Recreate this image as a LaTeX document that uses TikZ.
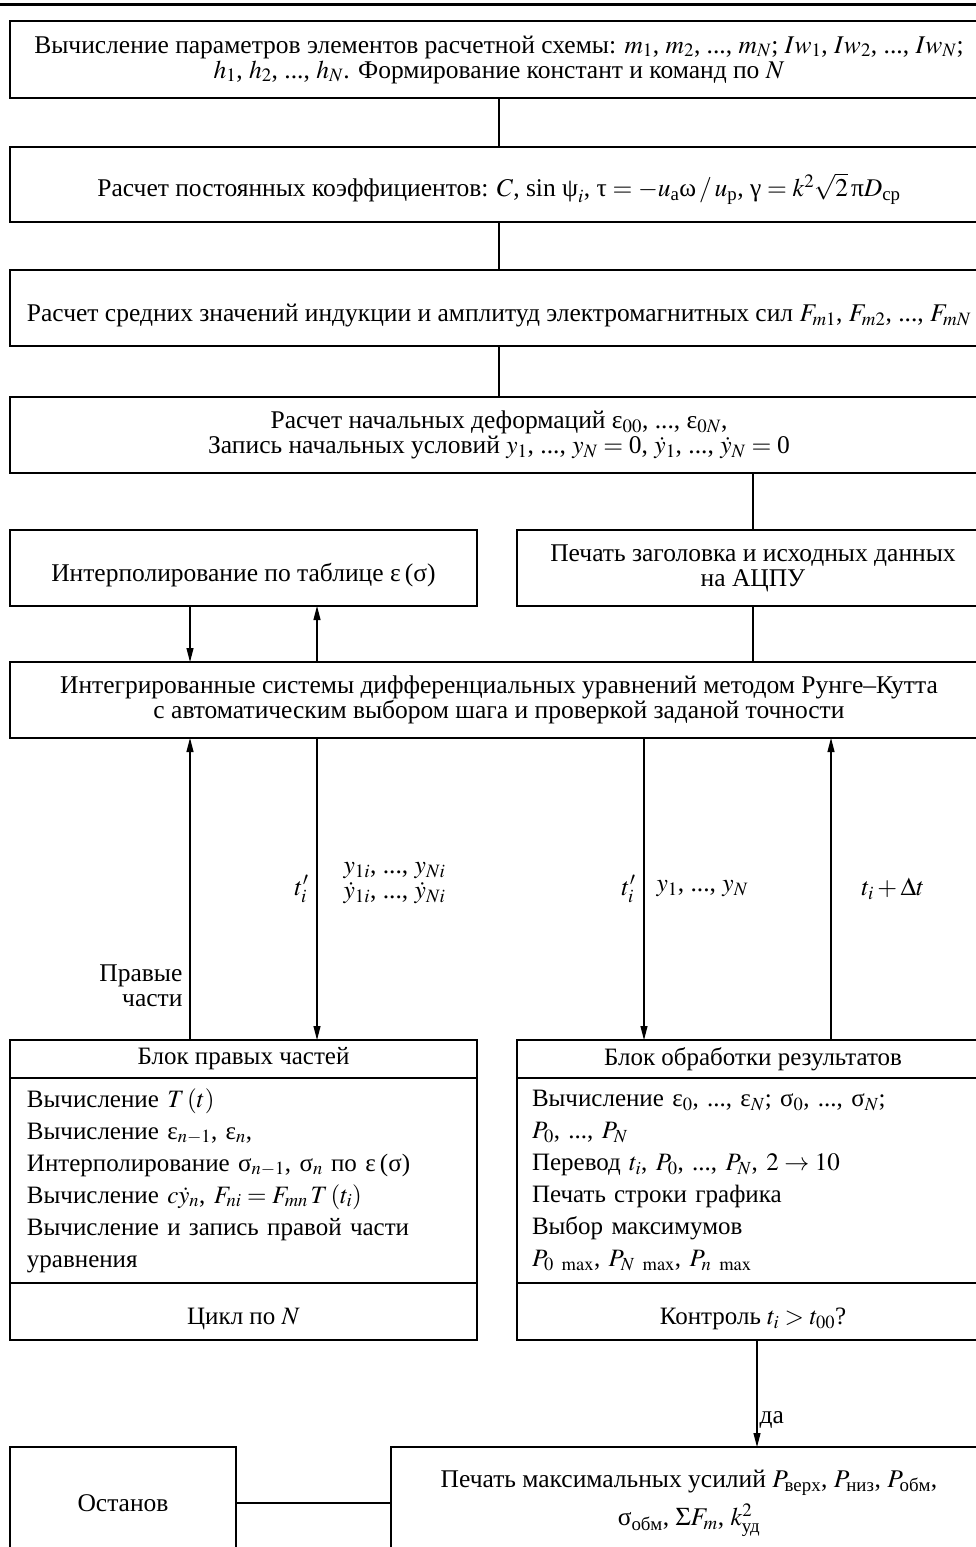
\documentclass[tikz,border=0pt]{standalone}
\usepackage{amsmath}
\usepackage{mathptmx}
\usepackage{fontspec}
\setmainfont{Liberation Serif}
\usetikzlibrary{arrows.meta,positioning}
\newcommand{\blkfont}{\fontsize{25.5}{25}\selectfont}
\newcommand{\lstfont}{\fontsize{25}{32}\selectfont}
\newcommand{\gk}[1]{\text{#1}}
\tikzset{
  block/.style={draw,rectangle,line width=1.4pt,inner sep=0pt,outer sep=0pt,align=center,font=\blkfont},
  low/.style={execute at begin node={\rule{0pt}{32pt}}},
  wide/.style={block,low,minimum width=978pt,minimum height=76pt},
  half/.style={block,low,minimum width=470pt,minimum height=76pt},
  head/.style={block,minimum height=38pt,font=\lstfont},
  body/.style={block,minimum height=205pt,align=left,font=\lstfont},
  foot/.style={block,low,minimum height=57pt,font=\lstfont},
  link/.style={line width=1.1pt},
  lbl/.style={font=\blkfont,inner sep=2pt}
}

\begin{document}
\begin{tikzpicture}[x=1pt,y=-1pt,>={Triangle[length=14pt,width=7pt]}]
  \useasboundingbox (0,0) rectangle (976,1547);
  \clip (0,0) rectangle (976,1547);
  \draw[line width=3pt] (0,4.5) -- (976,4.5);
  % main chain
  \node[wide,minimum height=77pt] (params) at (499,59.5)
    {Вычисление параметров элементов расчетной схемы: $m_1$, $m_2$, ..., $m_N$; $Iw_1$, $Iw_2$, ..., $Iw_N$;\\
     $h_1$, $h_2$, ..., $h_N$. Формирование констант и команд по $N$};
  \node[wide,minimum height=75pt] (coefs) at (499,184.5)
    {Расчет постоянных коэффициентов: $C$, sin $\gk{ψ}_i$, $\gk{τ}=-u_\text{а}\gk{ω}\,/\,u_\text{р}$, $\gk{γ}=k^2\sqrt{2}\,\gk{π}D_\text{ср}$};
  \node[wide] (forces) at (499,308)
    {Расчет средних значений индукции и амплитуд электромагнитных сил $F_{m1}$, $F_{m2}$, ..., $F_{mN}$};
  \node[wide] (init) at (499,435)
    {Расчет начальных деформаций $\gk{ε}_{00}$, ..., $\gk{ε}_{0N}$,\\
     Запись начальных условий $y_1$, ..., $y_N={}$0, $\dot y_1$, ..., $\dot y_N={}$0};
  \node[half,minimum width=467pt] (interp) at (243.5,568) {Интерполирование по таблице ε\,(σ)};
  \node[half,minimum width=472pt] (print) at (753,568) {Печать заголовка и исходных данных\\ на АЦПУ};
  \node[wide] (rk) at (499,700)
    {Интегрированные системы дифференциальных уравнений методом Рунге--Кутта\\
     с автоматическим выбором шага и проверкой заданой точности};
  % right-hand side block
  \node[head,minimum width=467pt] (rhsT) at (243.5,1059) {Блок правых частей};
  \node[body,minimum width=467pt,text width=433pt,below=0pt of rhsT] (rhsB)
    {Вычисление $T\,(t)$\\
     Вычисление $\gk{ε}_{n-1}$, $\gk{ε}_n$,\\
     Интерполирование $\gk{σ}_{n-1}$, $\gk{σ}_n$ по ε\,(σ)\\
     Вычисление $c\dot y_n$, $F_{ni}=F_{mn}\,T\,(t_i)$\\
     Вычисление и запись правой части\\
     уравнения};
  \node[foot,minimum width=467pt,below=0pt of rhsB] (rhsF) {Цикл по $N$};
  % results block
  \node[head,minimum width=472pt] (resT) at (753,1059) {Блок обработки результатов};
  \node[body,minimum width=472pt,text width=442pt,below=0pt of resT] (resB)
    {Вычисление $\gk{ε}_0$, ..., $\gk{ε}_N$; $\gk{σ}_0$, ..., $\gk{σ}_N$;\\
     $P_0$, ..., $P_N$\\
     Перевод $t_i$, $P_0$, ..., $P_N$, $2\to10$\\
     Печать строки графика\\
     Выбор максимумов\\
     $P_{0\ \mathrm{max}}$, $P_{N\ \mathrm{max}}$, $P_{n\ \mathrm{max}}$};
  \node[foot,minimum width=472pt,below=0pt of resB] (resF) {Контроль $t_i>t_{00}$?};
  % last row
  \node[block,minimum width=226pt,minimum height=112pt] (stop) at (123,1503) {Останов};
  \node[block,minimum width=596pt,minimum height=112pt] (out) at (689,1503)
    {Печать максимальных усилий $P_\text{верх}$, $P_\text{низ}$, $P_\text{обм}$,\\[8pt]
     $\gk{σ}_\text{обм}$, $\Sigma F_m$, $k^2_\text{уд}$};
  % columns of the connectors
  \coordinate (xa) at (190,0);
  \coordinate (xb) at (317,0);
  \coordinate (xc) at (644,0);
  \coordinate (xd) at (831,0);
  \coordinate (xe) at (757,0);
  \draw[link] (params) -- (coefs);
  \draw[link] (coefs) -- (forces);
  \draw[link] (forces) -- (init);
  \draw[link] (init.south -| print) -- (print);
  \draw[link] (print) -- (print.south |- rk.north);
  \draw[link,->] (interp.south -| xa) -- (rk.north -| xa);
  \draw[link,->] (rk.north -| xb) -- (interp.south -| xb);
  \draw[link,->] (rhsT.north -| xa) -- node[lbl,left=5pt,pos=0.18,align=right]{Правые\\части} (rk.south -| xa);
  \draw[link,->] (rk.south -| xb) -- node[lbl,left=6pt]{$t'_i$}
    node[lbl,right=24pt,align=left,yshift=6pt]{$y_{1i}$, ..., $y_{Ni}$\\ $\dot y_{1i}$, ..., $\dot y_{Ni}$} (rhsT.north -| xb);
  \draw[link,->] (rk.south -| xc) -- node[lbl,left=6pt]{$t'_i$}
    node[lbl,right=10pt]{$y_1$, ..., $y_N$} (resT.north -| xc);
  \draw[link,->] (resT.north -| xd) -- node[lbl,right=28pt]{$t_i+\Delta t$} (rk.south -| xd);
  \draw[link,->] (resF.south -| xe) -- node[lbl,right,pos=0.75]{да} (out.north -| xe);
  \draw[link] (stop) -- (out);
\end{tikzpicture}
\end{document}
